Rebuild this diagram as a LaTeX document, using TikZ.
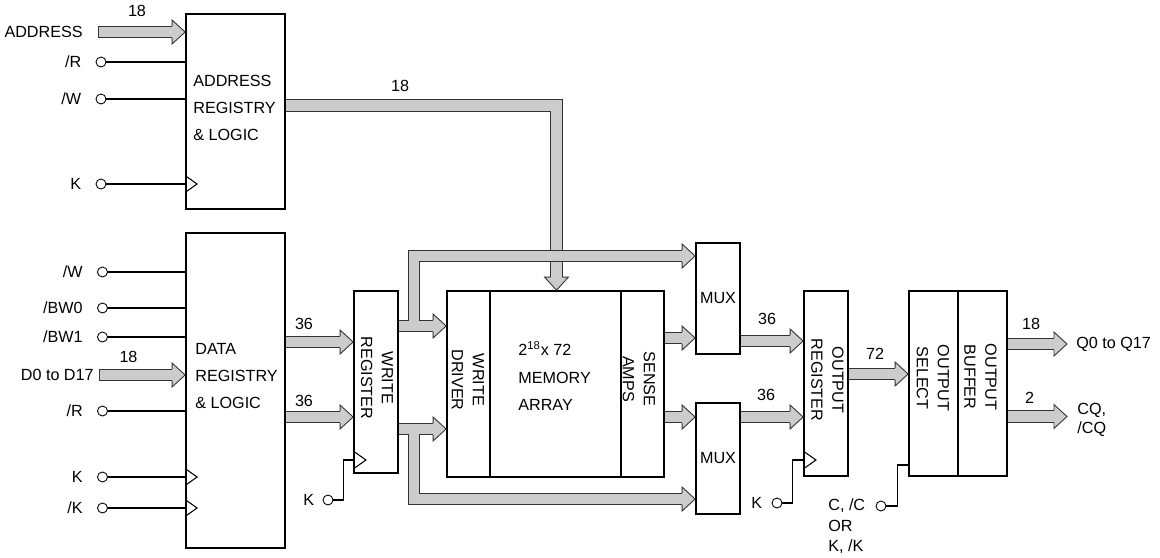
\documentclass[tikz,border=0pt]{standalone}
\usepackage{fontspec}
\setmainfont{Liberation Sans}
\usetikzlibrary{positioning}
\definecolor{busgray}{HTML}{CCCCCC}

\def\hdlen{7.4pt}
\def\hdwid{6.8pt}
\def\bushalf{3.35pt}
% arrow heads of the fat buses, tip at #1
\newcommand\headR[1]{\filldraw[bushead] ([shift={(-\hdlen,\bushalf)}]#1) -- ([shift={(-\hdlen,\hdwid)}]#1) -- (#1) -- ([shift={(-\hdlen,-\hdwid)}]#1) -- ([shift={(-\hdlen,-\bushalf)}]#1);}
\newcommand\headD[1]{\filldraw[bushead] ([shift={(\bushalf,\hdlen)}]#1) -- ([shift={(\hdwid,\hdlen)}]#1) -- (#1) -- ([shift={(-\hdwid,\hdlen)}]#1) -- ([shift={(-\bushalf,\hdlen)}]#1);}
% clock input
\newcommand\clk[1]{\draw[sig] ([yshift=4.8pt]#1) -- ([xshift=6.8pt]#1) -- ([yshift=-4.8pt]#1);}

\begin{document}
\begin{tikzpicture}[x=0.02cm, y=-0.02cm,
    font=\fontsize{9.2}{15.6}\selectfont,
    block/.style={draw, line width=1pt, inner sep=0pt},
    txt/.style={inner sep=0pt},
    rtxt/.style={inner sep=0pt, rotate=-90, align=center, font=\fontsize{9.2}{11.9}\selectfont},
    pin/.style={circle, draw, line width=0.5pt, inner sep=0pt, minimum size=0.2cm},
    sig/.style={line width=0.6pt},
    busout/.style={line width=7.2pt, draw=black!80, line join=miter},
    busin/.style={line width=6.2pt, draw=busgray, line join=miter},
    bushead/.style={fill=busgray, draw=black!80, line width=0.5pt, line join=miter},
    tipped/.style={shorten >=\hdlen}]
  \useasboundingbox (0,0) rectangle (1160,558);

  % blocks
  \node[block, minimum width=1.98cm, minimum height=3.9cm] (addr) at (235.5,111.5) {};
  \node[block, minimum width=1.98cm, minimum height=6.3cm] (dat) at (235.5,390.5) {};
  \node[block, minimum width=0.88cm, minimum height=3.64cm] (wreg) at (376,382) {};
  \node[block, minimum width=0.86cm, minimum height=3.72cm] (wdrv) at (468.5,384) {};
  \node[block, minimum width=2.62cm, minimum height=3.72cm] (arr) at (555.5,384) {};
  \node[block, minimum width=0.86cm, minimum height=3.72cm] (samp) at (642.5,384) {};
  \node[block, minimum width=0.88cm, minimum height=2.22cm] (umux) at (718,298.5) {MUX};
  \node[block, minimum width=0.88cm, minimum height=2.22cm] (lmux) at (718,458.5) {MUX};
  \node[block, minimum width=0.88cm, minimum height=3.7cm] (oreg) at (826,383.5) {};
  \node[block, minimum width=0.98cm, minimum height=3.7cm] (osel) at (933.5,383.5) {};
  \node[block, minimum width=0.98cm, minimum height=3.7cm] (obuf) at (982.5,383.5) {};

  % block texts
  \node[txt, align=left, anchor=west] (addrtxt) at (193,108) {ADDRESS\\REGISTRY\\\& LOGIC};
  \node[txt, align=left, anchor=west] (dattxt) at (195,376) {DATA\\REGISTRY\\\& LOGIC};
  \node[txt, align=left, anchor=west] (arrtxt) at (518,376) {2\textsuperscript{18}x 72\\MEMORY\\ARRAY};
  \node[rtxt] (wregtxt) at (377,378) {WRITE\\REGISTER};
  \node[rtxt] (wdrvtxt) at (468,380) {WRITE\\DRIVER};
  \node[rtxt] (samptxt) at (639,379) {SENSE\\AMPS};
  \node[rtxt] (oregtxt) at (827.5,380) {OUTPUT\\REGISTER};
  \node[rtxt] (oseltxt) at (933,378) {OUTPUT\\SELECT};
  \node[rtxt] (obuftxt) at (980.5,377) {OUTPUT\\BUFFER};

  % input pins
  \begin{scope}[every node/.style={pin}]
    \node (aR) at (101,62) {};
    \node (aW) at (101,99) {};
    \node (aK) at (101,184) {};
    \node (dW) at (102.5,272) {};
    \node (dB0) at (102.5,308) {};
    \node (dB1) at (102.5,337) {};
    \node (dR) at (102.5,411) {};
    \node (dK) at (102.5,477) {};
    \node (dnK) at (102.5,508) {};
    \node (wK) at (328,500) {};
    \node (oK) at (777,503) {};
    \node (oC) at (881,506) {};
  \end{scope}
  \begin{scope}[every node/.style={txt}]
    \node[left=0.28cm of aR] (aRl) {/R};
    \node[left=0.28cm of aW] (aWl) {/W};
    \node[left=0.28cm of aK] (aKl) {K};
    \node[left=0.28cm of dW] (dWl) {/W};
    \node[left=0.28cm of dB0] (dB0l) {/BW0};
    \node[left=0.28cm of dB1] (dB1l) {/BW1};
    \node[left=0.28cm of dR] (dRl) {/R};
    \node[left=0.28cm of dK] (dKl) {K};
    \node[left=0.28cm of dnK] (dnKl) {/K};
    \node[left=0.16cm of wK] (wKl) {K};
    \node[left=0.18cm of oK] (oKl) {K};
    \node[align=left, anchor=west, font=\fontsize{9.2}{11.6}\selectfont] (oCl) at (828,526.5) {C, /C\\OR\\K, /K};
    \node[anchor=west] (qoutl) at (1076,344) {Q0 to Q17};
    \node[align=left, anchor=west, font=\fontsize{9.2}{10.8}\selectfont] (cqoutl) at (1077,420) {CQ,\\/CQ};
  \end{scope}

  % pin lines and clocks
  \draw[sig] (aR) -- (aR -| addr.west);
  \draw[sig] (aW) -- (aW -| addr.west);
  \draw[sig] (aK) -- (aK -| addr.west);
  \draw[sig] (dW) -- (dW -| dat.west);
  \draw[sig] (dB0) -- (dB0 -| dat.west);
  \draw[sig] (dB1) -- (dB1 -| dat.west);
  \draw[sig] (dR) -- (dR -| dat.west);
  \draw[sig] (dK) -- (dK -| dat.west);
  \draw[sig] (dnK) -- (dnK -| dat.west);
  \clk{aK -| addr.west}
  \clk{dK -| dat.west}
  \clk{dnK -| dat.west}
  \coordinate (wclk) at (354,460);
  \coordinate (oclk) at (804,460);
  \coordinate (sclk) at (909,465);
  \draw[sig] (wK.east) -- ++(10,0) |- (wclk);
  \draw[sig] (oK.east) -- ++(10,0) |- (oclk);
  \draw[sig] (oC.east) -- ++(11,0) |- (sclk);
  \clk{wclk}
  \clk{oclk}

  % bus levels
  \coordinate (ain) at (98,32);
  \coordinate (din) at (99,375);
  \coordinate (acr) at (556.5,105.5);
  \coordinate (yd1) at (0,342);
  \coordinate (yd2) at (0,417);
  \coordinate (yw1) at (0,326);
  \coordinate (yw2) at (0,429);
  \coordinate (ubr) at (414,256);
  \coordinate (lbr) at (414,499);
  \coordinate (ys1) at (0,338);
  \coordinate (ys2) at (0,417);
  \coordinate (ym1) at (0,341);
  \coordinate (ym2) at (0,417);
  \coordinate (yo) at (0,374);
  \coordinate (q1) at (1067,344);
  \coordinate (q2) at (1067,416.5);
  \node[txt, left=0.3cm of ain] (ainl) {ADDRESS};
  \node[txt, left=0.1cm of din] (dinl) {D0 to D17};

  % buses
  \draw[busout, tipped] (ain) -- (ain -| addr.west);
  \draw[busin, tipped, shorten <=0.5pt] (ain) -- (ain -| addr.west);
  \headR{ain -| addr.west}
  \draw[busout, tipped] (din) -- (din -| dat.west);
  \draw[busin, tipped, shorten <=0.5pt] (din) -- (din -| dat.west);
  \headR{din -| dat.west}

  \draw[busout, tipped] (addr.east |- acr) -- (acr) -- (acr |- arr.north);
  \draw[busin, tipped] (addr.east |- acr) -- (acr) -- (acr |- arr.north);
  \headD{acr |- arr.north}

  \draw[busout, tipped] (dat.east |- yd1) -- (wreg.west |- yd1);
  \draw[busin, tipped] (dat.east |- yd1) -- (wreg.west |- yd1);
  \headR{wreg.west |- yd1}
  \draw[busout, tipped] (dat.east |- yd2) -- (wreg.west |- yd2);
  \draw[busin, tipped] (dat.east |- yd2) -- (wreg.west |- yd2);
  \headR{wreg.west |- yd2}

  \draw[busout, tipped] (wreg.east |- yw1) -- (wdrv.west |- yw1);
  \draw[busout, tipped] (ubr |- yw1) -- (ubr) -- (umux.west |- ubr);
  \draw[busin, tipped] (wreg.east |- yw1) -- (wdrv.west |- yw1);
  \draw[busin, tipped] (ubr |- yw1) -- (ubr) -- (umux.west |- ubr);
  \headR{wdrv.west |- yw1}
  \headR{umux.west |- ubr}
  \draw[busout, tipped] (wreg.east |- yw2) -- (wdrv.west |- yw2);
  \draw[busout, tipped] (lbr |- yw2) -- (lbr) -- (lmux.west |- lbr);
  \draw[busin, tipped] (wreg.east |- yw2) -- (wdrv.west |- yw2);
  \draw[busin, tipped] (lbr |- yw2) -- (lbr) -- (lmux.west |- lbr);
  \headR{wdrv.west |- yw2}
  \headR{lmux.west |- lbr}

  \draw[busout, tipped] (samp.east |- ys1) -- (umux.west |- ys1);
  \draw[busin, tipped] (samp.east |- ys1) -- (umux.west |- ys1);
  \headR{umux.west |- ys1}
  \draw[busout, tipped] (samp.east |- ys2) -- (lmux.west |- ys2);
  \draw[busin, tipped] (samp.east |- ys2) -- (lmux.west |- ys2);
  \headR{lmux.west |- ys2}

  \draw[busout, tipped] (umux.east |- ym1) -- (oreg.west |- ym1);
  \draw[busin, tipped] (umux.east |- ym1) -- (oreg.west |- ym1);
  \headR{oreg.west |- ym1}
  \draw[busout, tipped] (lmux.east |- ym2) -- (oreg.west |- ym2);
  \draw[busin, tipped] (lmux.east |- ym2) -- (oreg.west |- ym2);
  \headR{oreg.west |- ym2}

  \draw[busout, tipped] (oreg.east |- yo) -- (osel.west |- yo);
  \draw[busin, tipped] (oreg.east |- yo) -- (osel.west |- yo);
  \headR{osel.west |- yo}

  \draw[busout, tipped] (obuf.east |- q1) -- (q1);
  \draw[busin, tipped] (obuf.east |- q1) -- (q1);
  \headR{q1}
  \draw[busout, tipped] (obuf.east |- q2) -- (q2);
  \draw[busin, tipped] (obuf.east |- q2) -- (q2);
  \headR{q2}

  % bus widths
  \begin{scope}[every node/.style={txt}]
    \node (nain) at (137,11) {18};
    \node (ndin) at (128.5,357) {18};
    \node (naddr) at (400,86) {18};
    \node (nd1) at (304,324) {36};
    \node (nd2) at (304,401) {36};
    \node (nm1) at (767,318.5) {36};
    \node (nm2) at (766,395) {36};
    \node (no) at (875,354) {72};
    \node (nq1) at (1031,324) {18};
    \node (nq2) at (1029.5,397.5) {2};
  \end{scope}
\end{tikzpicture}
\end{document}
